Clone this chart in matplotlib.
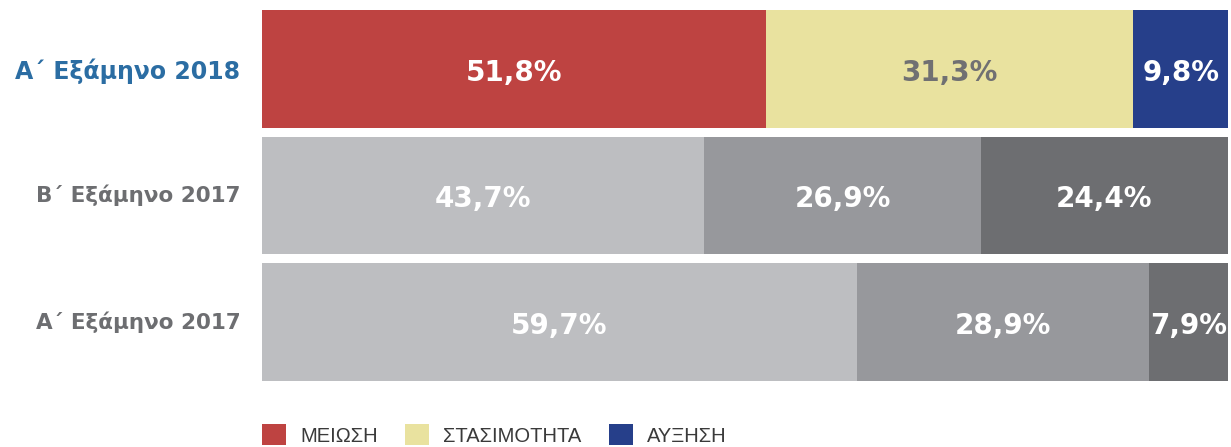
import matplotlib.pyplot as plt
from matplotlib.patches import Patch
import numpy as np

# rows, top to bottom
periods = ["Α´ Εξάμηνο 2018", "Β´ Εξάμηνο 2017", "Α´ Εξάμηνο 2017"]
categories = ["ΜΕΙΩΣΗ", "ΣΤΑΣΙΜΟΤΗΤΑ", "ΑΥΞΗΣΗ"]

# segment lengths (% of full width)
decrease = [52.2, 45.8, 61.6]
stable = [38.0, 28.6, 30.2]
increase = [9.8, 25.6, 8.2]

# printed labels
decrease_lbl = ["51,8%", "43,7%", "59,7%"]
stable_lbl = ["31,3%", "26,9%", "28,9%"]
increase_lbl = ["9,8%", "24,4%", "7,9%"]

highlight_colors = ["#BE4341", "#E9E29F", "#263F8A"]
gray_colors = ["#BDBEC1", "#97989C", "#6D6E71"]

fig = plt.figure(figsize=(12.31, 4.47), dpi=100)
ax = fig.add_axes([262 / 1231, 66 / 447, 966 / 1231, 371 / 447])

y = np.arange(len(periods))
series = [decrease, stable, increase]
labels = [decrease_lbl, stable_lbl, increase_lbl]
left = np.zeros(len(periods))
for k, (vals, lbls) in enumerate(zip(series, labels)):
    vals = np.array(vals)
    colors = [highlight_colors[k] if i == 0 else gray_colors[k] for i in range(len(periods))]
    ax.barh(y, vals, left=left, height=0.93, color=colors, linewidth=0)
    for i in range(len(periods)):
        txt_color = "#707072" if (i == 0 and k == 1) else "white"
        ax.text(left[i] + vals[i] / 2, y[i] + 0.03, lbls[i], ha="center", va="center",
                fontsize=20, fontweight="bold", color=txt_color)
    left += vals

ax.set_xlim(0, 100)
ax.set_ylim(len(periods) - 0.535, -0.465)
ax.axis("off")

for i, name in enumerate(periods):
    if i == 0:
        ax.text(-0.0225, y[i] + 0.02, name, transform=ax.get_yaxis_transform(), ha="right", va="center",
                fontsize=17, fontweight="bold", color="#2B6DA3")
    else:
        ax.text(-0.0225, y[i] + 0.0, name, transform=ax.get_yaxis_transform(), ha="right", va="center",
                fontsize=15.5, fontweight="bold", color="#6D6E71")

handles = [Patch(facecolor=c, edgecolor="none", label=n) for c, n in zip(highlight_colors, categories)]
fig.legend(handles=handles, loc="center left", bbox_to_anchor=(262 / 1231, 12 / 447), ncol=3,
           frameon=False, prop={"family": "Liberation Sans", "size": 14.5}, handlelength=1.2,
           handleheight=1.2, handletextpad=0.7, columnspacing=1.35, labelcolor="#3A3A3A",
           borderaxespad=0, borderpad=0)

fig.savefig("out.png", dpi=100)
